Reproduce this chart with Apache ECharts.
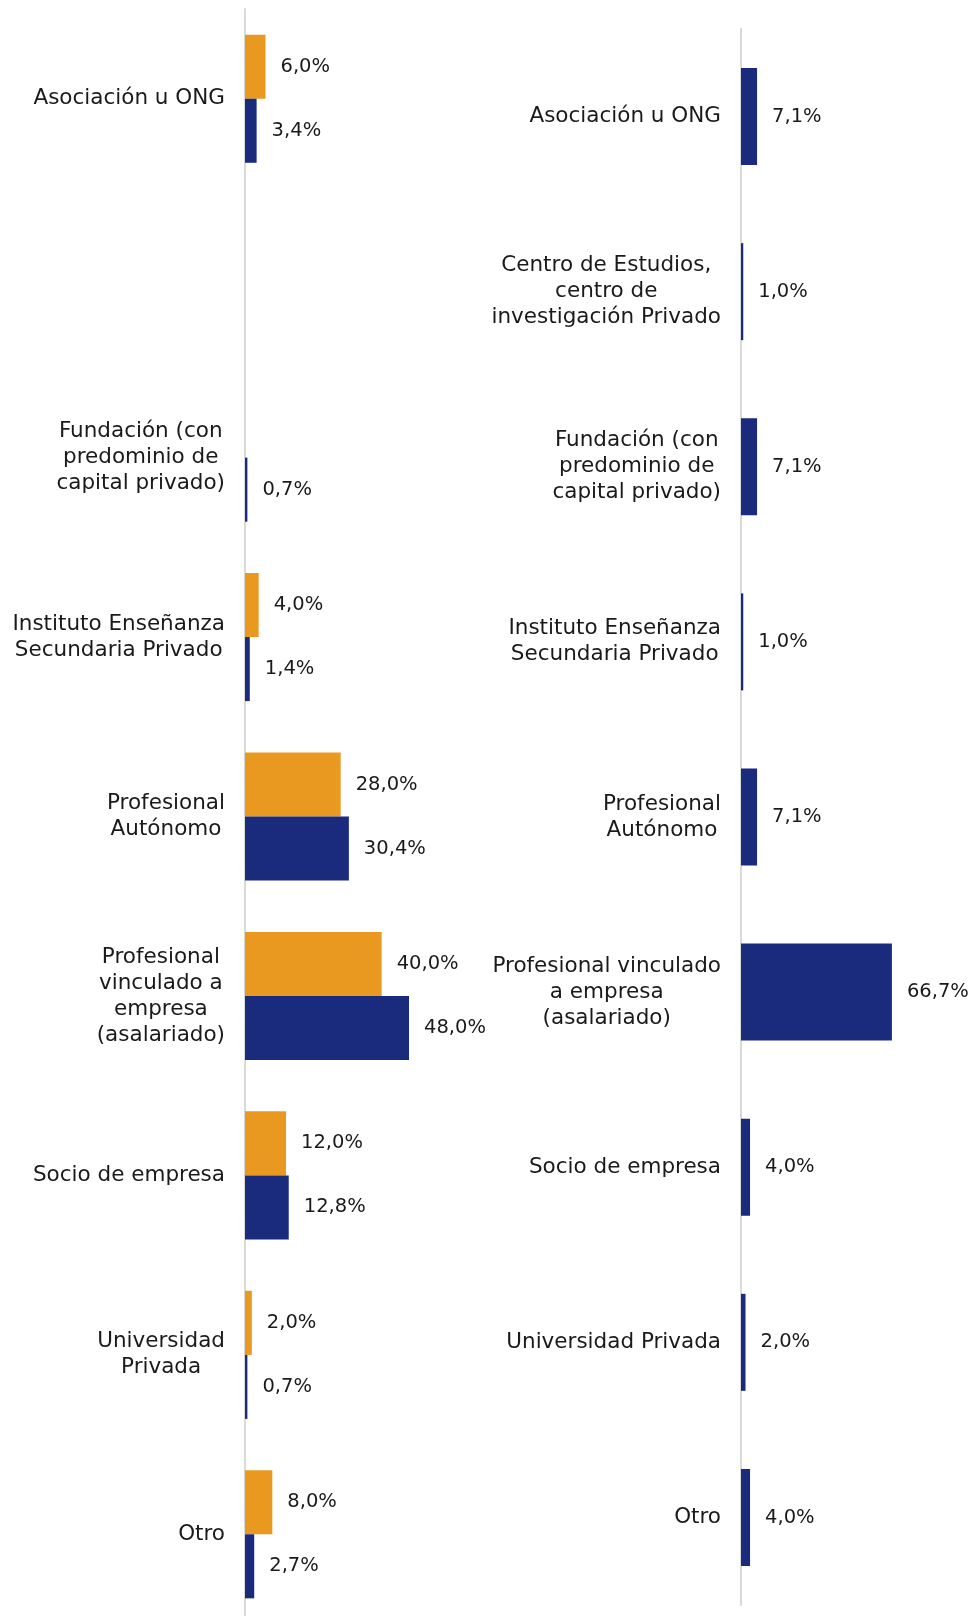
<!DOCTYPE html>
<html>
<head>
<meta charset="utf-8">
<script src="https://cdn.jsdelivr.net/npm/echarts@6/dist/echarts.min.js"></script>
<style>
html,body{margin:0;padding:0;background:#fff;}
#chart{width:970px;height:1616px;}
</style>
</head>
<body>
<div id="chart"></div>
<script>
// ---- Data ----
const leftCategories = [
  "Asociación u ONG",
  "",
  "Fundación (con\npredominio de\ncapital privado)",
  "Instituto Enseñanza\nSecundaria Privado",
  "Profesional\nAutónomo",
  "Profesional\nvinculado a\nempresa\n(asalariado)",
  "Socio de empresa",
  "Universidad\nPrivada",
  "Otro"
];
const leftOrange = [6.0, null, null, 4.0, 28.0, 40.0, 12.0, 2.0, 8.0];
const leftBlue   = [3.4, null, 0.7, 1.4, 30.4, 48.0, 12.8, 0.7, 2.7];

const rightCategories = [
  "Asociación u ONG",
  "Centro de Estudios,\ncentro de\ninvestigación Privado",
  "Fundación (con\npredominio de\ncapital privado)",
  "Instituto Enseñanza\nSecundaria Privado",
  "Profesional\nAutónomo",
  "Profesional vinculado\na empresa\n(asalariado)",
  "Socio de empresa",
  "Universidad Privada",
  "Otro"
];
const rightBlue = [7.1, 1.0, 7.1, 1.0, 7.1, 66.7, 4.0, 2.0, 4.0];

// ---- Styles ----
const ORANGE = '#E9991F';
const NAVY = '#1A2A7C';
const FONT = "'DejaVu Sans', sans-serif";
const FS_CAT = 21.5;
const FS_VAL = 19.5;
const TXT = '#1a1a1a';

const fmtPct = p => (p.value == null ? '' : p.value.toFixed(1).replace('.', ',') + '%');
const catFormatter = v => v.split('\n').map(l => '{c|' + l + '}').join('\n');

function catAxis(gridIndex, cats) {
  return {
    type: 'category', gridIndex, data: cats, inverse: true,
    axisTick: {show: false},
    axisLine: {show: true, lineStyle: {color: '#d9d9d9', width: 2}},
    axisLabel: {
      margin: 20, formatter: catFormatter,
      rich: {c: {align: 'center', fontSize: FS_CAT, lineHeight: 26, fontFamily: FONT, color: TXT}}
    }
  };
}
function valAxis(gridIndex, max) {
  return {type: 'value', gridIndex, min: 0, max, show: false, splitLine: {show: false}};
}
function lbl() {
  return {show: true, position: 'right', distance: 15, formatter: fmtPct,
          fontSize: FS_VAL, fontFamily: FONT, color: TXT};
}

const chart = echarts.init(document.getElementById('chart'), null, {renderer: 'canvas'});
chart.setOption({
  backgroundColor: '#fff',
  animation: false,
  grid: [
    {left: 245, top: 9, width: 205, height: 1615, outerBoundsMode: 'none', containLabel: false},
    {left: 741, top: 29, width: 181, height: 1576, outerBoundsMode: 'none', containLabel: false}
  ],
  xAxis: [valAxis(0, 60), valAxis(1, 80)],
  yAxis: [catAxis(0, leftCategories), catAxis(1, rightCategories)],
  series: [
    {type: 'bar', xAxisIndex: 0, yAxisIndex: 0, data: leftOrange, itemStyle: {color: ORANGE},
     barGap: '0%', barCategoryGap: '28.6%', label: lbl()},
    {type: 'bar', xAxisIndex: 0, yAxisIndex: 0, data: leftBlue, itemStyle: {color: NAVY},
     barGap: '0%', barCategoryGap: '28.6%', label: lbl()},
    {type: 'bar', xAxisIndex: 1, yAxisIndex: 1, data: rightBlue, itemStyle: {color: NAVY},
     barCategoryGap: '44.6%', label: lbl()}
  ]
});
</script>
</body>
</html>
